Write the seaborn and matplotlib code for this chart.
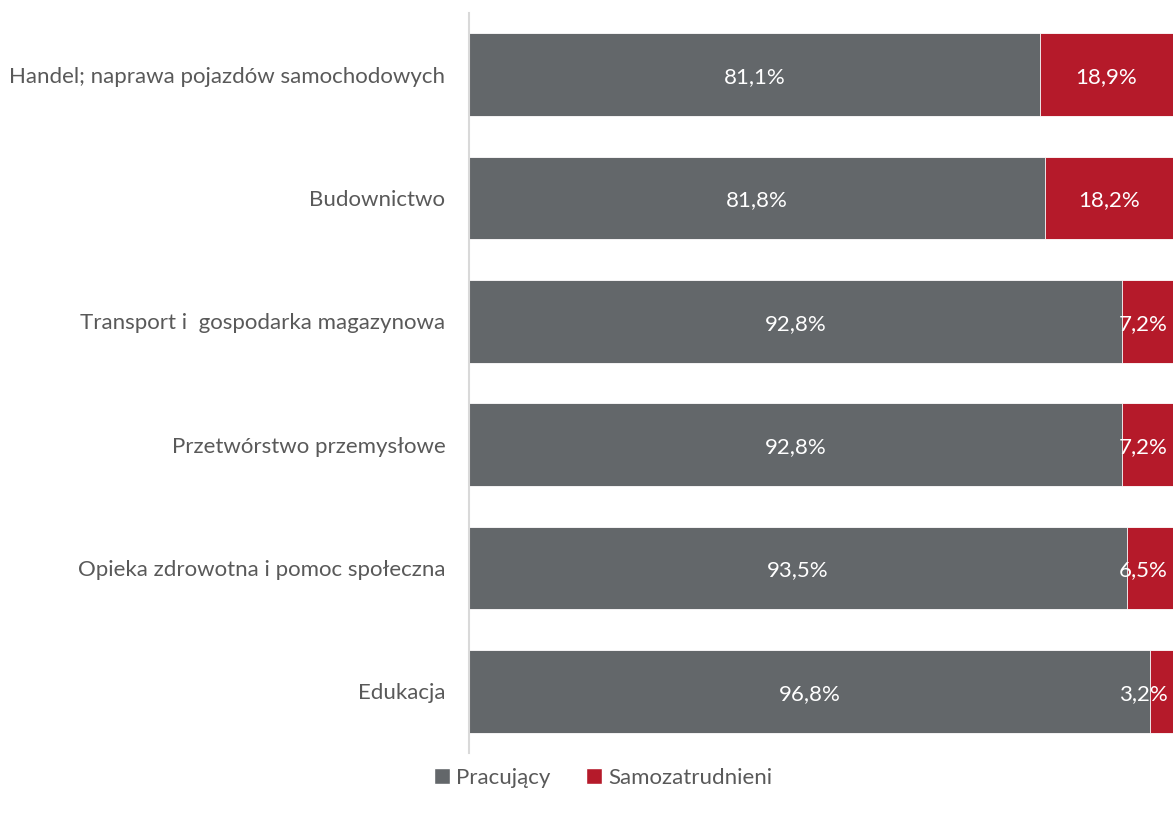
import matplotlib
matplotlib.use("Agg")
import matplotlib.pyplot as plt
import seaborn as sns
import pandas as pd
from matplotlib.patches import Patch

categories = [
    "Handel; naprawa pojazdów samochodowych",
    "Budownictwo",
    "Transport i  gospodarka magazynowa",
    "Przetwórstwo przemysłowe",
    "Opieka zdrowotna i pomoc społeczna",
    "Edukacja",
]
pracujacy = [81.1, 81.8, 92.8, 92.8, 93.5, 96.8]
samozatrudnieni = [18.9, 18.2, 7.2, 7.2, 6.5, 3.2]
series_names = ["Pracujący", "Samozatrudnieni"]

GRAY = "#63676A"
RED = "#B51A2A"
TEXT = "#595959"

sns.set_theme(style="white")
plt.rcParams["font.family"] = ["Lato", "DejaVu Sans"]

df = pd.DataFrame({"cat": categories, "prac": pracujacy, "samo": samozatrudnieni})
df["total"] = df["prac"] + df["samo"]

fig = plt.figure(figsize=(11.73, 8.17), dpi=100)
ax = fig.add_axes([469 / 1173, 1 - 753 / 817, 1 - 469 / 1173, (753 - 13) / 817])

sns.barplot(data=df, y="cat", x="total", color=RED, orient="h", width=0.67,
            saturation=1, ax=ax, edgecolor="white", linewidth=0.6)
sns.barplot(data=df, y="cat", x="prac", color=GRAY, orient="h", width=0.67,
            saturation=1, ax=ax, edgecolor="white", linewidth=0.6)

ax.set_xlim(0, 100)
ax.set_ylim(5.5, -0.5)
ax.set_xlabel("")
ax.set_ylabel("")
ax.set_xticks([])
for s in ["top", "right", "bottom"]:
    ax.spines[s].set_visible(False)
ax.spines["left"].set_color("#D9D9D9")
ax.spines["left"].set_linewidth(1.5)
ax.tick_params(axis="y", length=0, pad=17, labelsize=16, labelcolor=TEXT)

fmt = lambda v: f"{v:.1f}%".replace(".", ",")
for i, (p, s) in enumerate(zip(pracujacy, samozatrudnieni)):
    ax.text(p / 2, i + 0.02, fmt(p), ha="center", va="center", color="white", fontsize=16)
    if s >= 10:
        ax.text(p + s / 2, i + 0.02, fmt(s), ha="center", va="center", color="white", fontsize=16)
    else:
        ax.text(99.3, i + 0.02, fmt(s), ha="right", va="center", color="white", fontsize=16)

handles = [Patch(facecolor=GRAY), Patch(facecolor=RED)]
fig.legend(handles, series_names, loc="center", bbox_to_anchor=(0.514, 0.048), ncol=2,
           frameon=False, fontsize=16, labelcolor=TEXT, handlelength=0.75, handleheight=0.75,
           handletextpad=0.25, columnspacing=1.6)

fig.savefig("out.png", dpi=100)
